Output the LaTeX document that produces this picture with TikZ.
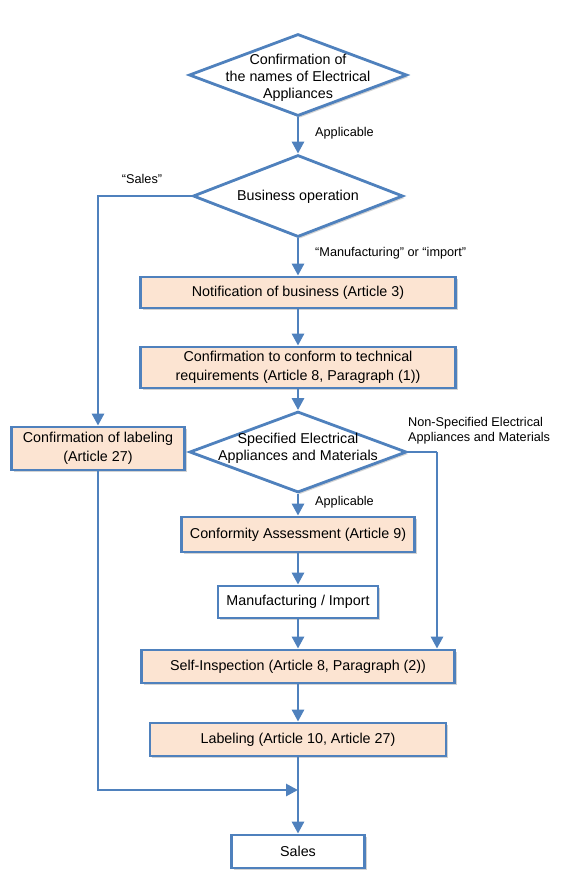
\documentclass[tikz,border=0pt]{standalone}
\usepackage{fontspec}
\setmainfont{Liberation Sans}
\usetikzlibrary{shapes.geometric,arrows.meta,shadows}
\definecolor{flowblue}{HTML}{4F81BD}
\definecolor{flowpeach}{HTML}{FCE4D2}
\begin{document}
\begin{tikzpicture}[x=1pt,y=-1pt]
\tikzstyle{every node}+=[inner sep=0pt]
\tikzstyle{box}=[draw=flowblue,line width=2.8pt,fill=flowpeach,minimum height=33pt,align=center,
  font=\fontsize{14.3}{19}\selectfont,drop shadow={shadow xshift=2pt,shadow yshift=-2pt,opacity=0.35}]
\tikzstyle{whitebox}=[box,fill=white]
\tikzstyle{decision}=[diamond,draw=flowblue,line width=2.8pt,fill=white,
  drop shadow={shadow xshift=2pt,shadow yshift=-2pt,opacity=0.35}]
\tikzstyle{dtext}=[align=center,font=\fontsize{14.3}{17}\selectfont]
\tikzstyle{note}=[font=\fontsize{12.7}{15}\selectfont]
\tikzstyle{flow}=[draw=flowblue,line width=2.8pt,-{Triangle[length=12pt,width=12pt]}]
\tikzstyle{plain}=[draw=flowblue,line width=2.8pt]
\useasboundingbox (0,0) rectangle (573,877);
\node[decision,minimum width=218pt,minimum height=82pt] (names) at (298,75) {};
\node[dtext] (namestext) at (298,78) {Confirmation of\\the names of Electrical\\Appliances};
\node[decision,minimum width=210pt,minimum height=82pt] (business) at (298,196) {};
\node[dtext] (businesstext) at (298,197) {Business operation};
\node[box,minimum width=315pt,minimum height=31pt] (notif) at (298,292.5) {Notification of business (Article 3)};
\node[box,minimum width=315pt,minimum height=41pt,font=\fontsize{14.3}{18.5}\selectfont] (techreq) at (298,367.5) {Confirmation to conform to technical\\requirements (Article 8, Paragraph (1))};
\node[decision,minimum width=217pt,minimum height=81pt] (specified) at (298,452) {};
\node[dtext] (specifiedtext) at (298,448) {Specified Electrical\\Appliances and Materials};
\node[box,minimum width=173pt,minimum height=43pt,font=\fontsize{14.3}{18.5}\selectfont] (conflab) at (98,448.5) {Confirmation of labeling\\(Article 27)};
\node[box,minimum width=233pt,minimum height=35pt] (assess) at (298,534.5) {Conformity Assessment (Article 9)};
\node[whitebox,minimum width=160pt,minimum height=32pt] (manuf) at (298,602) {Manufacturing / Import};
\node[box,minimum width=313pt] (selfinsp) at (298,666.5) {Self-Inspection (Article 8, Paragraph (2))};
\node[box,minimum width=296pt] (labeling) at (298,739.5) {Labeling (Article 10, Article 27)};
\node[whitebox,minimum width=133pt] (sales) at (298,851.5) {Sales};
\coordinate (nsturn) at (437,452);
\coordinate (merge) at (298,790);
\draw[flow] (names.south) -- (business.north);
\draw[flow] (business.west) -| (conflab.north);
\draw[flow] (business.south) -- (notif.north);
\draw[flow] (notif.south) -- (techreq.north);
\draw[flow] (techreq.south) -- (specified.north);
\draw[flow] (specified.south) -- (assess.north);
\draw[plain] (specified.east) -- (nsturn);
\draw[flow] (nsturn) -- (nsturn |- selfinsp.north);
\draw[flow] (assess.south) -- (manuf.north);
\draw[flow] (manuf.south) -- (selfinsp.north);
\draw[flow] (selfinsp.south) -- (labeling.north);
\draw[flow] (labeling.south) -- (sales.north);
\draw[flow] (conflab.south) |- (merge);
\node[note,anchor=west] (applic1) at (315,133) {Applicable};
\node[note] (saleslab) at (142,179) {“Sales”};
\node[note,anchor=west] (mfgimp) at (315,253) {“Manufacturing” or “import”};
\node[note,anchor=west,align=left] (nonspec) at (408,430.5) {Non-Specified Electrical\\Appliances and Materials};
\node[note,anchor=west] (applic2) at (315,502) {Applicable};
\end{tikzpicture}
\end{document}
